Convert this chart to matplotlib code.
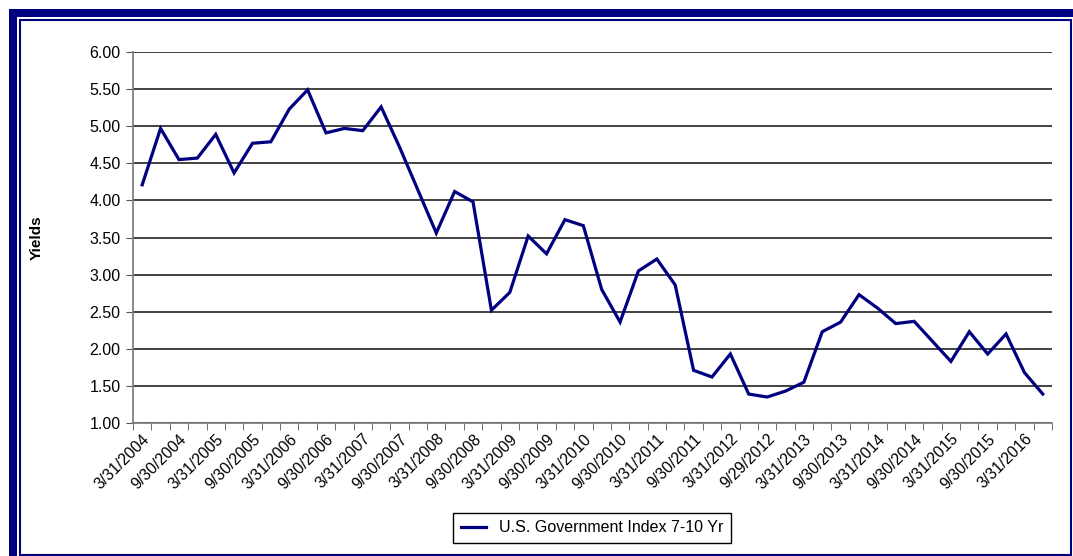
import matplotlib
matplotlib.use("Agg")
from matplotlib import pyplot as plt
from matplotlib.patches import Rectangle
from matplotlib.ticker import FixedLocator, FuncFormatter

# Libelles de l'axe x (un trimestre sur deux)
etiquettes = ["3/31/2004", "9/30/2004", "3/31/2005", "9/30/2005", "3/31/2006",
              "9/30/2006", "3/31/2007", "9/30/2007", "3/31/2008", "9/30/2008",
              "3/31/2009", "9/30/2009", "3/31/2010", "9/30/2010", "3/31/2011",
              "9/30/2011", "3/31/2012", "9/29/2012", "3/31/2013", "9/30/2013",
              "3/31/2014", "9/30/2014", "3/31/2015", "9/30/2015", "3/31/2016"]

# Rendements trimestriels
rendements = [4.21, 4.97, 4.55, 4.57, 4.89, 4.37, 4.77, 4.79, 5.23, 5.49,
              4.91, 4.97, 4.94, 5.26, 4.72, 4.14, 3.56, 4.12, 3.98, 2.52,
              2.76, 3.52, 3.28, 3.74, 3.66, 2.80, 2.36, 3.05, 3.21, 2.86,
              1.71, 1.62, 1.93, 1.39, 1.35, 1.43, 1.55, 2.23, 2.36, 2.73,
              2.55, 2.34, 2.37, 2.10, 1.83, 2.23, 1.93, 2.20, 1.68, 1.39]

serie = "U.S. Government Index 7-10 Yr"

plt.rcParams['font.family'] = ['Liberation Sans', 'DejaVu Sans']

W, H = 1073, 556
fig = plt.figure(figsize=(W/100, H/100), dpi=100)
fig.patch.set_facecolor("white")

#Cadre bleu marine
navy = "#000080"
fig.add_artist(Rectangle((9/W, 0), 8/W, 1 - 9/H, transform=fig.transFigure, color=navy, lw=0))
fig.add_artist(Rectangle((9/W, 1 - 17/H), 1 - 9/W, 8/H, transform=fig.transFigure, color=navy, lw=0))
fig.add_artist(Rectangle((20/W, 1/H), 1051/W, 1 - 21/H, transform=fig.transFigure,
                         fill=False, edgecolor=navy, lw=1.5))

ax = fig.add_axes([133/W, 1 - 423/H, (1052 - 133)/W, (423 - 52)/H])
x = list(range(len(rendements)))
ligne, = ax.plot(x, rendements, color=navy, lw=2.3, label=serie, solid_joinstyle="miter")

ax.set_xlim(-0.5, len(rendements) - 0.5)
ax.set_ylim(1.0, 6.0)
ax.set_yticks([1 + 0.5*i for i in range(11)])
ax.yaxis.set_major_formatter(FuncFormatter(lambda v, p: "%.2f" % v))
ax.grid(axis="y", color="#222222", lw=1.2)
ax.set_axisbelow(True)

#Ticks x : marques entre les categories, libelles un sur deux
ax.xaxis.set_major_locator(FixedLocator([i*2 for i in range(len(etiquettes))]))
ax.set_xticklabels(etiquettes, rotation=45, ha="right", rotation_mode="anchor", fontsize=11.3)
ax.xaxis.set_minor_locator(FixedLocator([i - 0.5 for i in range(len(rendements) + 1)]))
ax.tick_params(axis="x", which="major", length=0, pad=6)
ax.tick_params(axis="x", which="minor", length=5, color="#555555", direction="out")
ax.tick_params(axis="y", length=5, color="#555555", labelsize=11.5, pad=4)

for s in ["top", "right"]:
    ax.spines[s].set_visible(False)
for s in ["left", "bottom"]:
    ax.spines[s].set_color("#777777")
    ax.spines[s].set_linewidth(1.2)

ax.set_ylabel("Yields", fontweight="bold", fontsize=11, labelpad=33)

leg = fig.legend(handles=[ligne], loc="center", bbox_to_anchor=(592/W, 1 - 528/H),
                 fancybox=False, edgecolor="black", framealpha=1, fontsize=11.5,
                 handlelength=1.6, borderpad=0.5)
leg.get_frame().set_linewidth(1.0)

fig.savefig("out.png", dpi=100)
